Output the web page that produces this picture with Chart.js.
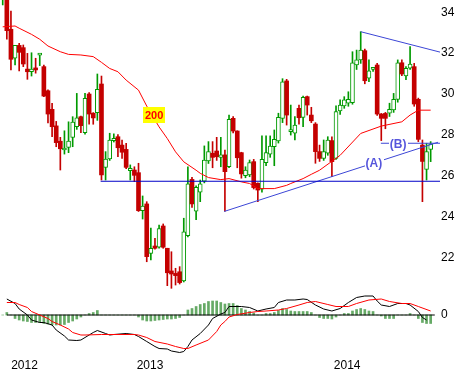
<!DOCTYPE html>
<html>
<head>
<meta charset="utf-8">
<script src="https://cdn.jsdelivr.net/npm/chart.js@4.4.1/dist/chart.umd.min.js"></script>
<style>
  html, body { margin: 0; padding: 0; background: #fff; }
  #wrap { position: relative; width: 455px; height: 375px; overflow: hidden; }
  canvas { position: absolute; left: 0; }
  #price { top: 0; }
  #macd { top: 292px; }
</style>
</head>
<body>
<div id="wrap">
  <canvas id="price" width="455" height="292"></canvas>
  <canvas id="macd" width="455" height="83"></canvas>
</div>
<script>
// weekly candles
const open  = [34.8,35.0,33.17,31.75,32.38,32.27,31.22,31.09,31.27,31.90,31.34,30.16,29.25,28.44,27.69,27.26,27.39,27.88,28.40,28.89,28.11,30.00,29.06,29.09,30.49,26.41,26.82,27.72,27.91,27.50,27.29,26.25,26.28,26.15,24.29,24.62,22.20,22.56,22.50,23.54,22.45,21.34,21.22,21.30,20.85,23.07,25.82,24.26,25.19,25.74,26.72,27.10,27.21,26.90,27.02,26.44,28.81,28.19,27.13,26.00,26.04,26.69,25.63,25.34,26.64,27.06,27.42,27.71,28.81,30.64,28.16,28.08,29.30,28.86,29.87,28.97,28.53,27.18,26.85,27.10,27.72,26.85,29.17,29.42,29.55,29.58,31.42,31.67,32.12,30.77,31.21,31.42,29.02,29.05,29.06,29.22,29.74,31.53,30.88,31.26,31.34,29.74,27.50,26.31,27.29];
const high  = [35.4,35.2,34.06,32.38,32.48,32.40,31.99,32.02,31.75,31.97,31.42,30.20,29.55,28.66,27.88,28.20,28.64,28.89,30.03,28.92,30.03,30.07,29.09,30.98,30.88,27.18,28.08,28.05,28.01,27.75,27.59,26.53,26.44,26.61,25.01,24.73,23.44,22.94,23.59,23.64,22.45,22.28,21.47,21.55,23.92,26.44,25.92,25.50,25.79,27.46,27.67,27.67,27.88,27.88,27.26,28.97,28.89,28.20,27.15,26.44,26.77,26.80,25.65,27.95,27.95,27.95,28.24,29.06,30.75,30.72,29.46,28.89,29.46,29.90,29.90,29.35,28.60,27.50,27.75,27.91,27.91,29.42,29.71,29.87,30.11,32.07,32.15,33.05,32.20,31.67,31.30,31.50,29.05,29.10,29.55,30.03,31.67,31.67,31.34,32.32,31.50,29.80,27.75,27.59,27.67];
const low   = [34.36,32.68,31.18,31.42,31.13,31.34,30.72,30.88,31.02,31.39,29.87,28.58,27.91,27.42,26.28,27.06,27.13,27.42,28.27,28.11,28.04,28.53,28.52,28.71,25.79,25.79,26.75,27.65,26.93,26.85,26.35,25.79,25.71,24.25,23.88,21.79,21.88,22.40,22.45,22.45,20.62,20.49,20.65,20.70,20.80,23.00,24.45,23.85,24.73,25.65,26.60,26.39,26.75,26.44,24.27,26.40,28.10,26.39,25.88,25.90,25.95,25.35,24.73,25.20,26.49,26.90,26.49,27.60,28.60,28.48,27.99,27.75,28.52,28.40,28.97,28.60,26.61,26.70,26.75,27.00,25.95,26.80,29.00,29.30,29.40,29.50,31.20,31.50,30.50,30.60,31.10,28.95,27.72,28.30,28.90,29.10,29.60,30.90,30.70,31.20,29.40,27.67,24.73,25.79,26.69];
const close = [35.2,33.10,31.70,32.38,32.04,31.47,31.09,31.22,31.18,31.95,29.90,29.02,28.40,27.62,27.32,27.34,27.70,28.63,28.83,28.45,29.79,29.02,28.83,30.23,26.04,26.82,27.75,27.83,27.37,27.15,26.41,26.36,26.02,24.29,24.52,22.04,22.45,22.45,23.41,22.50,21.25,21.19,21.11,20.77,23.25,25.60,24.62,25.43,25.60,26.77,27.18,26.90,26.93,27.02,26.20,28.76,28.19,26.88,26.09,26.28,26.64,25.42,25.30,26.80,27.13,27.45,27.78,28.86,30.60,28.97,28.24,28.48,28.84,29.84,29.46,28.69,27.18,26.85,27.18,27.75,26.69,29.14,29.46,29.71,29.74,31.53,31.67,32.15,30.65,31.14,31.26,29.02,28.81,28.81,29.25,29.74,31.53,30.98,31.26,31.47,29.51,27.78,26.70,27.18,27.55];

// 200 moving average (candle index, value)
const maIdx = [0,3,4,7,9,11,14,16,19,22,24,26,28,30,33,35,38,40,42,44,47,48,50,53,55,58,60,62,66,69,70,73,75,77,82,87,92,97,99,101,104];
const maVal = [33.29,33.33,33.22,32.92,32.68,32.35,32.07,31.94,31.91,31.83,31.55,31.25,31.09,30.68,30.19,29.41,28.39,27.82,27.17,26.68,26.27,26.12,25.91,25.81,25.86,25.70,25.62,25.37,25.37,25.53,25.62,25.86,26.07,26.27,27.00,28.07,28.43,28.64,28.97,29.21,29.21];

// drawn lines: [startIndex, startPrice, endIndex, endPrice]
const supportLine = [23.8, 25.73, 106.3, 25.73];
const lineA = [53.8, 24.25, 105.8, 27.64];
const lineB = [91.9, 27.59, 106.3, 27.59];
const topLine = [87.0, 33.05, 106.3, 32.05];

const priceTicks = [22, 24, 26, 28, 30, 32, 34];

// MACD panel
const macdIdx = [1,3,4,6,7,9,10,12,13,15,16,18,19,20,21,22,23,25,26,27,30,32,33,35,37,38,40,41,43,44,45,46,48,50,51,53,54,55,58,60,62,64,66,67,69,71,73,74,76,78,80,82,84,86,88,90,91,92,94,96,98,99,101,102,103];
const macdVal = [0.32,0.23,0.12,0.00,-0.10,-0.15,-0.15,-0.20,-0.30,-0.42,-0.50,-0.51,-0.50,-0.45,-0.40,-0.35,-0.31,-0.37,-0.40,-0.39,-0.37,-0.39,-0.43,-0.53,-0.63,-0.67,-0.68,-0.72,-0.75,-0.73,-0.63,-0.50,-0.37,-0.20,-0.07,0.02,0.05,0.17,0.17,0.15,0.08,0.12,0.15,0.25,0.30,0.30,0.32,0.31,0.20,0.12,0.08,0.13,0.25,0.35,0.38,0.38,0.28,0.20,0.17,0.23,0.23,0.20,0.07,-0.05,-0.10];
const signalIdx = [1,3,4,6,7,9,11,12,14,16,17,19,20,24,28,32,33,35,37,40,42,44,45,47,50,52,53,54,55,57,60,62,64,67,69,72,74,76,79,81,84,86,89,92,94,97,99,101,104];
const signalVal = [0.25,0.25,0.21,0.15,0.07,0.00,-0.07,-0.13,-0.20,-0.28,-0.35,-0.40,-0.40,-0.39,-0.39,-0.39,-0.40,-0.45,-0.53,-0.58,-0.63,-0.67,-0.67,-0.60,-0.50,-0.33,-0.20,-0.13,-0.04,0.01,0.05,0.07,0.08,0.10,0.13,0.20,0.25,0.27,0.21,0.17,0.17,0.23,0.30,0.32,0.27,0.23,0.23,0.17,0.08];
const histVal = [0,0.05,0,-0.07,-0.10,-0.12,-0.13,-0.15,-0.15,-0.15,-0.17,-0.18,-0.20,-0.20,-0.20,-0.19,-0.15,-0.12,-0.08,-0.04,0,0.03,0.05,0.09,0,0,0,0,0,0,0,0,0,-0.04,-0.10,-0.12,-0.12,-0.11,-0.10,-0.09,-0.08,-0.08,-0.07,-0.05,0,0.10,0.13,0.17,0.21,0.23,0.27,0.28,0.28,0.25,0.22,0.23,0.23,0.19,0.13,0.10,0.07,0.04,0,0,0.03,0.03,0.05,0.09,0.13,0.11,0.08,0.07,0.07,0.07,0.07,0.05,0,-0.05,-0.07,-0.07,-0.08,-0.04,0,0.03,0.03,0.08,0.11,0.13,0.11,0.08,0.07,0,-0.02,-0.07,-0.07,-0.07,0,0,0,0.03,0,-0.07,-0.15,-0.17,-0.17];
const zeroSpan = [1, 105];

const yearLabels = ["2012", "2013", "2014"];
const yearPos = [5.3, 35.8, 83.7];

const GREEN = "#009a00";
const RED = "#c40000";
const FONT = "'Liberation Sans', Arial, sans-serif";

const up = open.map((o, i) => close[i] >= o);
const seg = (l) => [{ x: l[0], y: l[1] }, { x: l[2], y: l[3] }];

const notes = [
    { text: "200", x: 36.8, y: 28.99, color: "#ff0000", bg: "#ffff00", font: "bold 11px " + FONT, h: 16, pad: 2 },
    { text: "(A)", x: 90.2, y: 26.65, color: "#5656dc", bg: "#ffffff", font: "bold 12px " + FONT, h: 13, pad: 1 },
    { text: "(B)", x: 96.1, y: 27.59, color: "#5656dc", bg: "#ffffff", font: "bold 12px " + FONT, h: 13, pad: 1 },
];

const notePlugin = {
    id: "notes",
    afterDatasetsDraw(chart) {
        const { ctx, scales } = chart;
        ctx.save();
        notes.forEach((n) => {
            ctx.font = n.font;
            const w = ctx.measureText(n.text).width + n.pad * 2;
            const px = scales.x.getPixelForValue(n.x);
            const py = scales.y.getPixelForValue(n.y);
            ctx.fillStyle = n.bg;
            ctx.fillRect(Math.round(px - w / 2), Math.round(py - n.h / 2), Math.round(w), n.h);
            ctx.fillStyle = n.color;
            ctx.textAlign = "center";
            ctx.textBaseline = "middle";
            ctx.fillText(n.text, px, py + 1);
        });
        ctx.restore();
    },
};

const X_MIN = -0.66, X_MAX = 106.27;

function rightAxis(width) {
    return (s) => { s.width = width; s.paddingTop = 0; s.paddingBottom = 0; };
}

// Ценовой график
new Chart(document.getElementById("price"), {
    data: {
        datasets: [
            {
                type: "line", data: seg(supportLine), borderColor: "#0000c8", borderWidth: 1,
                pointRadius: 0, order: 0,
            },
            {
                type: "line", data: seg(lineA), borderColor: "#3c46d6", borderWidth: 1,
                pointRadius: 0, order: 0,
            },
            {
                type: "line", data: seg(lineB), borderColor: "#3c46d6", borderWidth: 1,
                pointRadius: 0, order: 0,
            },
            {
                type: "line", data: seg(topLine), borderColor: "#3c46d6", borderWidth: 1,
                pointRadius: 0, order: 0,
            },
            {
                type: "line", data: maIdx.map((x, k) => ({ x: x, y: maVal[k] })),
                borderColor: "#ff0000", borderWidth: 1, pointRadius: 0, tension: 0, order: 1,
            },
            {
                type: "bar", data: open.map((o, i) => ({ x: i, y: [o, close[i]] })),
                backgroundColor: up.map((u) => (u ? "#ffffff" : RED)),
                borderColor: up.map((u) => (u ? GREEN : RED)),
                borderWidth: up.map((u) => (u ? 1 : 0)),
                borderSkipped: false, barThickness: 4, minBarLength: 2, grouped: false, order: 2,
            },
            {
                type: "bar", data: low.map((l, i) => ({ x: i, y: [l, high[i]] })),
                backgroundColor: up.map((u) => (u ? GREEN : RED)),
                borderWidth: 0, barThickness: 1, grouped: false, order: 3,
            },
        ],
    },
    options: {
        responsive: false,
        animation: false,
        devicePixelRatio: 1,
        layout: { padding: 0, autoPadding: false },
        plugins: { legend: { display: false }, tooltip: { enabled: false } },
        scales: {
            x: { type: "linear", min: X_MIN, max: X_MAX, offset: false, display: false },
            y: {
                position: "right", min: 20.309, max: 34.602,
                afterBuildTicks: (s) => { s.ticks = priceTicks.map((v) => ({ value: v })); },
                afterFit: rightAxis(15),
                grid: { display: false, drawTicks: false },
                border: { display: false },
                ticks: { padding: 1, color: "#000", font: { family: FONT, size: 12 } },
            },
        },
    },
    plugins: [notePlugin],
});

// MACD
new Chart(document.getElementById("macd"), {
    data: {
        datasets: [
            {
                type: "line", data: signalIdx.map((x, k) => ({ x: x, y: signalVal[k] })),
                borderColor: "#ff0000", borderWidth: 1, pointRadius: 0, order: 0,
            },
            {
                type: "line", data: macdIdx.map((x, k) => ({ x: x, y: macdVal[k] })),
                borderColor: "#000000", borderWidth: 1, pointRadius: 0, order: 1,
            },
            {
                type: "line", data: [{ x: zeroSpan[0], y: 0 }, { x: zeroSpan[1], y: 0 }],
                borderColor: "#000000", borderWidth: 1, pointRadius: 0, order: 2,
            },
            {
                type: "bar", data: histVal.map((v, i) => ({ x: i, y: v })),
                backgroundColor: "#66aa66", barThickness: 2, grouped: false, order: 3,
            },
        ],
    },
    options: {
        responsive: false,
        animation: false,
        devicePixelRatio: 1,
        layout: { padding: 0, autoPadding: false },
        plugins: { legend: { display: false }, tooltip: { enabled: false } },
        scales: {
            x: {
                type: "linear", min: X_MIN, max: X_MAX, offset: false, position: "bottom",
                afterBuildTicks: (s) => { s.ticks = yearPos.map((v) => ({ value: v })); },
                afterFit: (s) => { s.height = 19; s.paddingLeft = 0; s.paddingRight = 0; },
                grid: { display: false, drawTicks: false },
                border: { display: false },
                ticks: {
                    autoSkip: false, maxRotation: 0, padding: 2, color: "#000",
                    font: { family: FONT, size: 12 },
                    callback: (v, i) => yearLabels[i],
                },
            },
            y: {
                position: "right", min: -0.82, max: 0.46,
                afterBuildTicks: (s) => { s.ticks = [{ value: 0 }]; },
                afterFit: rightAxis(15),
                grid: { display: false, drawTicks: false },
                border: { display: false },
                ticks: { padding: 1, color: "#000", font: { family: FONT, size: 12 }, callback: () => "0" },
            },
        },
    },
});
</script>
</body>
</html>
